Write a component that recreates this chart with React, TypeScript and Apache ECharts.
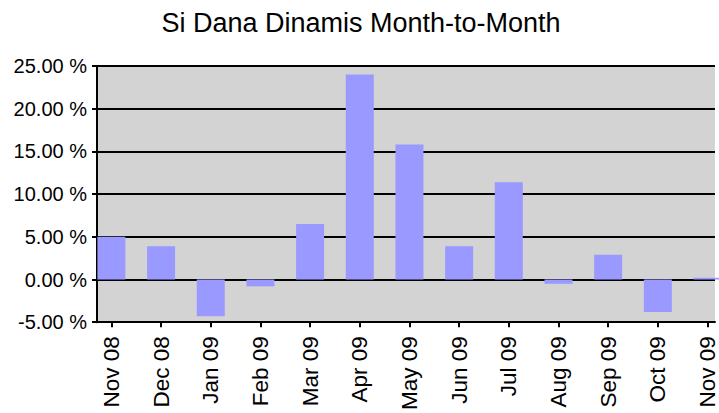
import React, { useEffect, useRef } from "react";
import * as echarts from "echarts";

const categories = ["Nov 08", "Dec 08", "Jan 09", "Feb 09", "Mar 09", "Apr 09", "May 09", "Jun 09", "Jul 09", "Aug 09", "Sep 09", "Oct 09", "Nov 09"];
const monthlyReturns = [5.0, 3.9, -4.3, -0.8, 6.5, 24.0, 15.8, 3.9, 11.4, -0.5, 2.9, -3.8, 0.2];
const yTicks = [-5, 0, 5, 10, 15, 20, 25];

export default function App() {
  const ref = useRef<HTMLDivElement>(null);
  useEffect(() => {
    if (!ref.current) return;
    const chart = echarts.init(ref.current, undefined, { renderer: "svg" });
    const idx = categories.map((_, i) => i);
    chart.setOption({
      animation: false,
      backgroundColor: "#ffffff",
      title: {
        text: "Si Dana Dinamis Month-to-Month",
        left: 356,
        textAlign: "center",
        top: 4,
        textStyle: { fontFamily: "Liberation Sans", fontSize: 27, fontWeight: "normal", color: "#000" },
      },
      grid: {
        left: 97,
        right: 0,
        top: 66,
        bottom: 90,
        show: true,
        backgroundColor: "#d3d3d3",
        borderWidth: 0,
      },
      xAxis: {
        type: "value",
        min: -0.29,
        max: 12.15,
        splitLine: { show: false },
        axisLine: { show: true, onZero: false, lineStyle: { color: "#000", width: 2 } },
        axisTick: { show: true, customValues: idx, length: 5, lineStyle: { color: "#000", width: 2 } },
        axisLabel: {
          customValues: idx,
          rotate: 90,
          margin: 14,
          fontFamily: "Liberation Sans",
          fontSize: 22.5,
          color: "#000",
          formatter: (v: number) => categories[Math.round(v)] ?? "",
        },
      },
      yAxis: {
        type: "value",
        min: yTicks[0],
        max: yTicks[yTicks.length - 1],
        interval: 5,
        axisLine: { show: true, onZero: false, lineStyle: { color: "#000", width: 2 } },
        axisTick: { show: true, length: 5, lineStyle: { color: "#000", width: 2 } },
        splitLine: { show: true, lineStyle: { color: "#000", width: 2 } },
        axisLabel: {
          margin: 10,
          fontFamily: "Liberation Sans",
          fontSize: 20,
          color: "#000",
          formatter: (v: number) => v.toFixed(2) + " %",
        },
      },
      series: [
        {
          type: "bar",
          barWidth: 28,
          data: monthlyReturns.map((v, i) => [i, v]),
          itemStyle: { color: "#9999ff" },
        },
      ],
    });
    return () => chart.dispose();
  }, []);
  return <div ref={ref} style={{ position: "fixed", left: 0, top: 0, width: 719, height: 413 }} />;
}
